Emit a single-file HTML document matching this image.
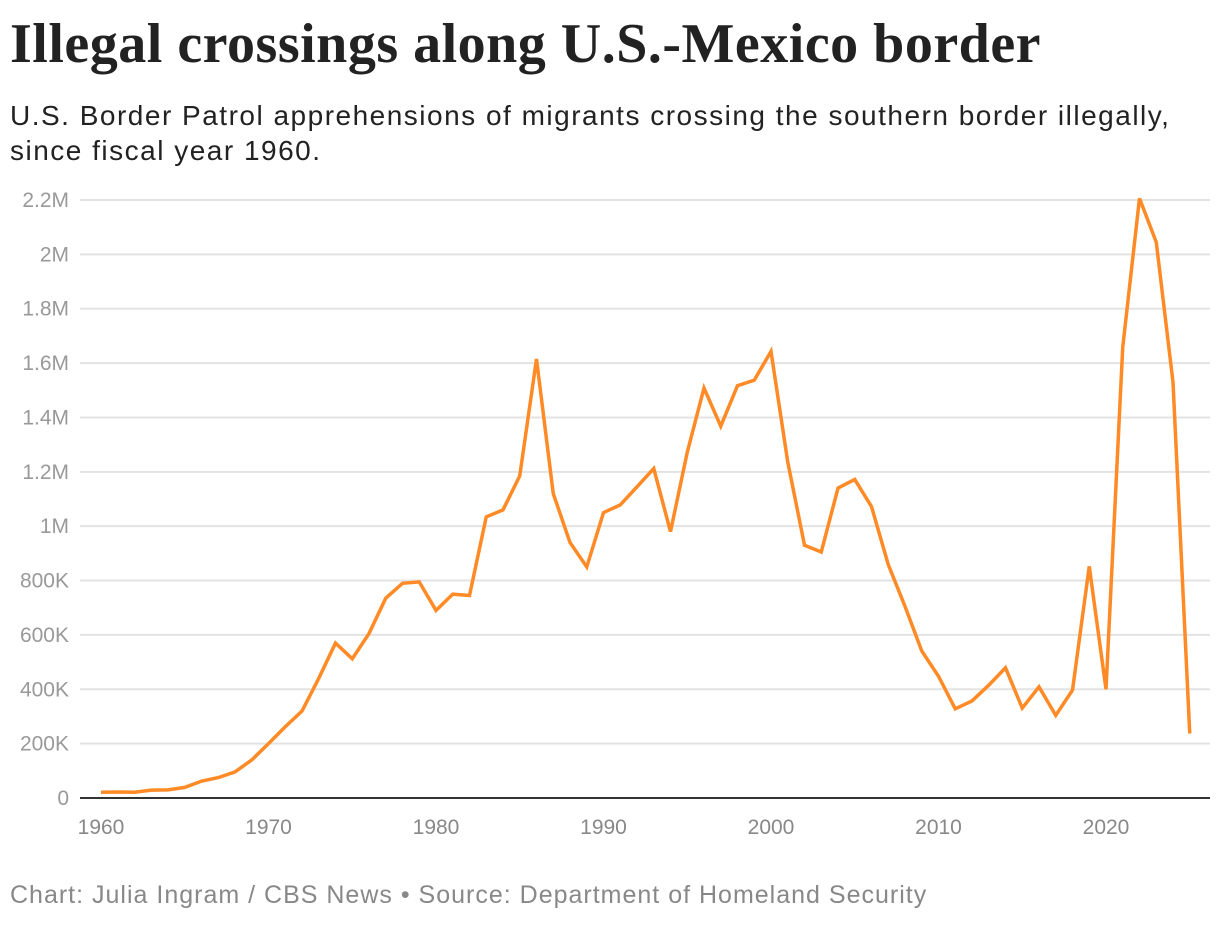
<!DOCTYPE html>
<html><head><meta charset="utf-8"><style>
body{margin:0;background:#fff;width:1220px;height:926px;overflow:hidden;font-family:"Liberation Sans",sans-serif}
h1{position:absolute;left:10px;top:12px;margin:0;font-family:"Liberation Serif",serif;font-weight:bold;font-size:56px;letter-spacing:0.5px;color:#222;white-space:nowrap}
.sub{position:absolute;left:10px;top:98px;font-size:28px;line-height:35px;color:#222;width:1215px;letter-spacing:1.5px;white-space:nowrap}
.foot{position:absolute;left:10px;top:881px;font-size:25px;color:#888;letter-spacing:1px;white-space:nowrap}
svg{position:absolute;left:0;top:0}
</style></head><body>
<h1>Illegal crossings along U.S.-Mexico border</h1>
<div class="sub">U.S. Border Patrol apprehensions of migrants crossing the southern border illegally,<br>since fiscal year 1960.</div>
<svg id="chart" width="1220" height="926"></svg>
<div class="foot">Chart: Julia Ingram / CBS News • Source: Department of Homeland Security</div>
<script>
const years=[];for(let y=1960;y<=2025;y++)years.push(y);
const values=[21,22,21,29,30,39,62,75,96,140,200,262,320,440,570,512,605,735,790,795,690,750,745,1034,1060,1185,1615,1120,940,850,1050,1078,1145,1212,980,1272,1508,1368,1517,1537,1643,1236,930,905,1140,1172,1072,859,705,541,448,328,357,415,479,331,409,304,397,852,400,1659,2206,2045,1530,237];
const yTicks=[0,200,400,600,800,1000,1200,1400,1600,1800,2000,2200];
const yTickLabels=["0","200K","400K","600K","800K","1M","1.2M","1.4M","1.6M","1.8M","2M","2.2M"];
const xTicks=[1960,1970,1980,1990,2000,2010,2020];
const NS="http://www.w3.org/2000/svg",svg=document.getElementById('chart');
const x=v=>101+(v-1960)*16.75, y=v=>798-v*(598/2200);
function mk(t,a){const e=document.createElementNS(NS,t);for(const k in a)e.setAttribute(k,a[k]);svg.appendChild(e);return e;}
yTicks.forEach((t,i)=>{
 if(t>0){const g=mk('line',{x1:80,x2:1210,y1:y(t),y2:y(t),stroke:'#e3e3e3','stroke-width':2});
 
 }
 const l=mk('text',{x:69,y:y(t)+7,'text-anchor':'end','font-size':21,fill:'#999','font-family':'Liberation Sans, sans-serif'});
 l.textContent=yTickLabels[i];
 
 
});
xTicks.forEach(t=>{
 const l=mk('text',{x:x(t),y:834,'text-anchor':'middle','font-size':21,fill:'#888','font-family':'Liberation Sans, sans-serif'});
 l.textContent=t;
 
 
});
const ax=mk('line',{x1:80,x2:1210,y1:798,y2:798,stroke:'#333','stroke-width':2});


const p=mk('polyline',{points:years.map((yr,i)=>x(yr)+','+y(values[i])).join(' '),fill:'none',stroke:'#ff8a26','stroke-width':3.5,'stroke-linejoin':'miter'});


</script>
</body></html>
